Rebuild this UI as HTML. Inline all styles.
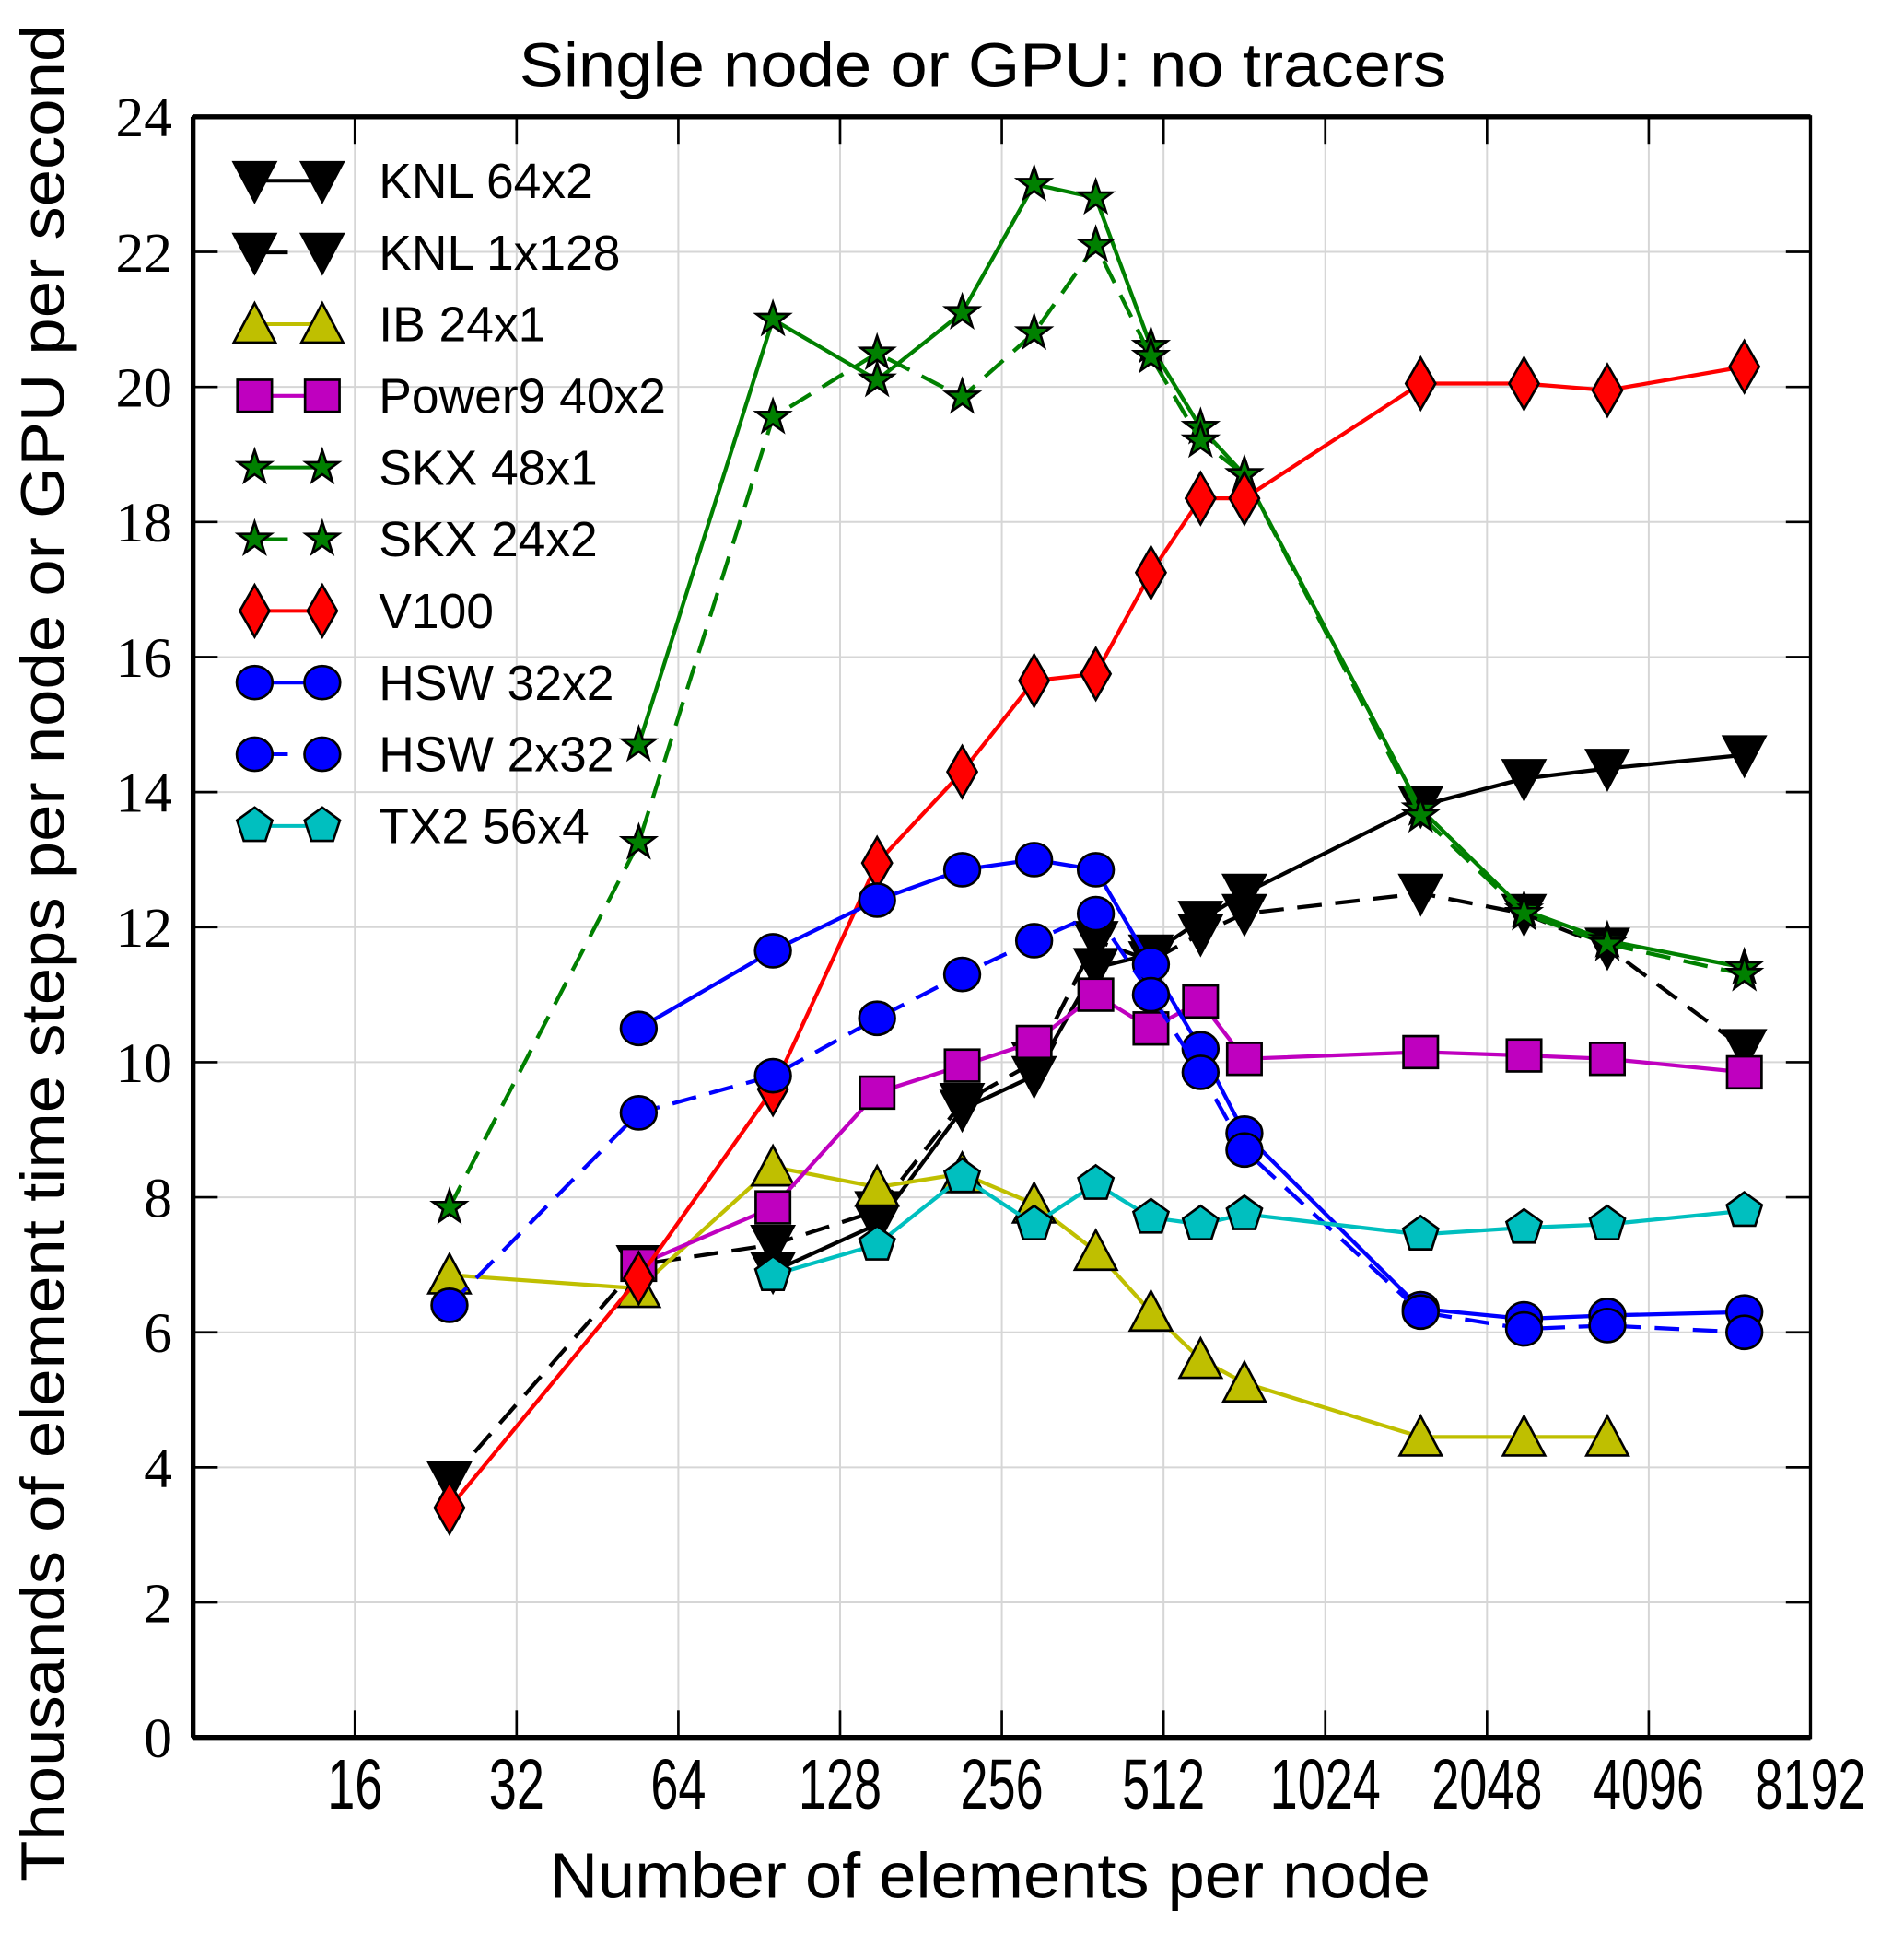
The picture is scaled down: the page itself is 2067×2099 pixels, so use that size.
<!DOCTYPE html>
<html><head><meta charset="utf-8"><style>
html,body{margin:0;padding:0;background:#fff;}
svg{display:block;}
text{font-family:"Liberation Sans",sans-serif;fill:#000;}
.tk{font-family:"Liberation Serif",serif;}
</style></head><body>
<svg id="chart" width="2067" height="2099" viewBox="0 0 1548 1572" xmlns="http://www.w3.org/2000/svg">
<g id="grid"></g>
<g id="series"></g>
<g id="axes"></g>
<g id="legend"></g>
<text x="799" y="70" font-size="50" text-anchor="middle" textLength="754" lengthAdjust="spacingAndGlyphs">Single node or GPU: no tracers</text>
<text x="805" y="1543" font-size="52" text-anchor="middle" textLength="716" lengthAdjust="spacingAndGlyphs">Number of elements per node</text>
<text transform="translate(52,775) rotate(-90)" font-size="50" text-anchor="middle" textLength="1510" lengthAdjust="spacingAndGlyphs">Thousands of element  time steps per node or GPU per second</text>
</svg>
<script>
const xCats = [24, 54, 96, 150, 216, 294, 383, 485, 600, 724, 1541, 2400, 3430, 6170];
const knl64x2 = [null, null, 6.9, 7.6, 9.3, 9.8, 11.4, 11.6, 12.1, 12.5, 13.8, 14.2, 14.35, 14.55];
const knl1x128 = [3.8, 7.0, 7.3, 7.8, 9.4, 10.0, 11.8, 11.5, 11.9, 12.2, 12.5, 12.2, 11.7, 10.2];
const ib24x1 = [6.85, 6.65, 8.45, 8.15, 8.35, 7.9, 7.2, 6.3, 5.6, 5.25, 4.45, 4.45, 4.45, null];
const power9 = [null, 7.0, 7.85, 9.55, 9.95, 10.3, 11.0, 10.5, 10.9, 10.05, 10.15, 10.1, 10.05, 9.85];
const skx48x1 = [null, 14.7, 21.0, 20.1, 21.1, 23.0, 22.8, 20.6, 19.4, 18.7, 13.75, 12.25, 11.8, 11.4];
const skx24x2 = [7.85, 13.25, 19.55, 20.5, 19.85, 20.8, 22.1, 20.45, 19.2, 18.7, 13.65, 12.2, 11.75, 11.3];
const v100 = [3.4, 6.8, 9.6, 12.95, 14.3, 15.65, 15.75, 17.25, 18.35, 18.35, 20.05, 20.05, 19.95, 20.3];
const hsw32x2 = [null, 10.5, 11.65, 12.4, 12.85, 13.0, 12.85, 11.45, 10.2, 8.95, 6.35, 6.2, 6.25, 6.3];
const hsw2x32 = [6.4, 9.25, 9.8, 10.65, 11.3, 11.8, 12.2, 11.0, 9.85, 8.7, 6.3, 6.05, 6.1, 6.0];
const tx2 = [null, null, 6.85, 7.3, 8.3, 7.6, 8.2, 7.7, 7.6, 7.75, 7.45, 7.55, 7.6, 7.8];
const xTicks = [16, 32, 64, 128, 256, 512, 1024, 2048, 4096, 8192];
const yTicks = [0, 2, 4, 6, 8, 10, 12, 14, 16, 18, 20, 22, 24];

const NS = "http://www.w3.org/2000/svg";
const L = 157, R = 1472, T = 95, B = 1413;
const xs = v => L + (Math.log2(v) - 3) / 10 * (R - L);
const ys = v => B - v / 24 * (B - T);
function mk(tag, parent, attrs) { const e = document.createElementNS(NS, tag); for (const k in attrs) e.setAttribute(k, attrs[k]); parent.appendChild(e); return e; }

const grid = document.getElementById('grid'), axes = document.getElementById('axes'), ser = document.getElementById('series'), leg = document.getElementById('legend');
xTicks.forEach(t => {
  const x = xs(t);
  const g = mk('line', grid, {x1: x, x2: x, y1: T, y2: B, stroke: '#d6d6d6', 'stroke-width': 1.5});
  
  
  if (t < 8192) {
    mk('line', axes, {x1: x, x2: x, y1: B, y2: B - 22, stroke: '#000', 'stroke-width': 2});
    mk('line', axes, {x1: x, x2: x, y1: T, y2: T + 22, stroke: '#000', 'stroke-width': 2});
  }
  const s = String(t);
  const lb = mk('text', axes, {x: x, y: 1471, 'font-size': 58, 'text-anchor': 'middle', textLength: 22.5 * s.length, lengthAdjust: 'spacingAndGlyphs'});
  lb.textContent = s;
  
  
});
yTicks.forEach(t => {
  const y = ys(t);
  const g = mk('line', grid, {x1: L, x2: R, y1: y, y2: y, stroke: '#d6d6d6', 'stroke-width': 1.5});
  
  
  mk('line', axes, {x1: L, x2: L + 20, y1: y, y2: y, stroke: '#000', 'stroke-width': 2});
  mk('line', axes, {x1: R, x2: R - 20, y1: y, y2: y, stroke: '#000', 'stroke-width': 2});
  const lb = mk('text', axes, {x: 140, y: y + 16, 'font-size': 46, 'text-anchor': 'end', class: 'tk'});
  lb.textContent = t;
  
  
});
const fr = mk('rect', axes, {x: L, y: T, width: R - L, height: B - T, fill: 'none', stroke: '#000', 'stroke-width': 2.5});


mk('line', axes, {x1: L, x2: R, y1: B, y2: B, stroke: '#000', 'stroke-width': 4});
mk('line', axes, {x1: L, x2: R, y1: T, y2: T, stroke: '#000', 'stroke-width': 4});
mk('line', axes, {x1: L, x2: L, y1: T, y2: B, stroke: '#000', 'stroke-width': 4});

function marker(parent, type, x, y, fill) {
  const st = {fill: fill, stroke: '#000', 'stroke-width': 2};
  let e;
  if (type === 'tdown') e = mk('polygon', parent, Object.assign({points: `${x-17},${y-15} ${x+17},${y-15} ${x},${y+17}`}, st));
  else if (type === 'tup') e = mk('polygon', parent, Object.assign({points: `${x-17},${y+15} ${x+17},${y+15} ${x},${y-17}`}, st));
  else if (type === 'sq') e = mk('rect', parent, Object.assign({x: x-14, y: y-13, width: 28, height: 26}, st));
  else if (type === 'dia') e = mk('polygon', parent, Object.assign({points: `${x},${y-21} ${x+12},${y} ${x},${y+21} ${x-12},${y}`}, st));
  else if (type === 'circ') e = mk('ellipse', parent, Object.assign({cx: x, cy: y, rx: 14.5, ry: 13.5}, st));
  else if (type === 'star') {
    let p = [];
    for (let i = 0; i < 10; i++) { const r = i % 2 ? 5.5 : 14; const a = -Math.PI/2 + i*Math.PI/5; p.push((x + r*Math.cos(a)).toFixed(1) + ',' + (y + r*Math.sin(a)).toFixed(1)); }
    e = mk('polygon', parent, Object.assign({points: p.join(' ')}, st));
  } else if (type === 'pent') {
    let p = [];
    for (let i = 0; i < 5; i++) { const a = -Math.PI/2 + i*2*Math.PI/5; p.push((x + 15*Math.cos(a)).toFixed(1) + ',' + (y + 15*Math.sin(a)).toFixed(1)); }
    e = mk('polygon', parent, Object.assign({points: p.join(' ')}, st));
  }
  return e;
}

const seriesDefs = [
  {name: 'KNL 64x2', key: 'knl-64x2', data: knl64x2, color: '#000', m: 'tdown', mf: '#000', dash: false},
  {name: 'KNL 1x128', key: 'knl-1x128', data: knl1x128, color: '#000', m: 'tdown', mf: '#000', dash: true},
  {name: 'IB 24x1', key: 'ib-24x1', data: ib24x1, color: '#bfbf00', m: 'tup', mf: '#bfbf00', dash: false},
  {name: 'Power9 40x2', key: 'power9-40x2', data: power9, color: '#bf00bf', m: 'sq', mf: '#bf00bf', dash: false},
  {name: 'SKX 48x1', key: 'skx-48x1', data: skx48x1, color: '#008000', m: 'star', mf: '#008000', dash: false},
  {name: 'SKX 24x2', key: 'skx-24x2', data: skx24x2, color: '#008000', m: 'star', mf: '#008000', dash: true},
  {name: 'V100', key: 'v100', data: v100, color: '#ff0000', m: 'dia', mf: '#ff0000', dash: false},
  {name: 'HSW 32x2', key: 'hsw-32x2', data: hsw32x2, color: '#0000ff', m: 'circ', mf: '#0000ff', dash: false},
  {name: 'HSW 2x32', key: 'hsw-2x32', data: hsw2x32, color: '#0000ff', m: 'circ', mf: '#0000ff', dash: true},
  {name: 'TX2 56x4', key: 'tx2-56x4', data: tx2, color: '#00bfbf', m: 'pent', mf: '#00bfbf', dash: false}
];

seriesDefs.forEach((s, si) => {
  const g = mk('g', ser, {});
  
  
  const pts = [];
  s.data.forEach((v, i) => { if (v !== null) pts.push([xs(xCats[i]), ys(v)]); });
  const ln = mk('polyline', g, {points: pts.map(p => p.join(',')).join(' '), fill: 'none', stroke: s.color, 'stroke-width': 3.2, 'stroke-dasharray': s.dash ? '20,11' : 'none'});
  
  
  pts.forEach(p => {
    const mm = marker(g, s.m, p[0], p[1], s.mf);
    
    
  });
  const ly = 147 + si * 58.3;
  const lg = mk('g', leg, {});
  
  
  if (s.dash) mk('line', lg, {x1: 207, x2: 234, y1: ly, y2: ly, stroke: s.color, 'stroke-width': 3});
  else mk('line', lg, {x1: 207, x2: 262, y1: ly, y2: ly, stroke: s.color, 'stroke-width': 3});
  marker(lg, s.m, 207, ly, s.mf);
  marker(lg, s.m, 262, ly, s.mf);
  const t = mk('text', lg, {x: 308, y: ly + 14, 'font-size': 40});
  t.textContent = s.name;
  
  
});
</script>
</body></html>
